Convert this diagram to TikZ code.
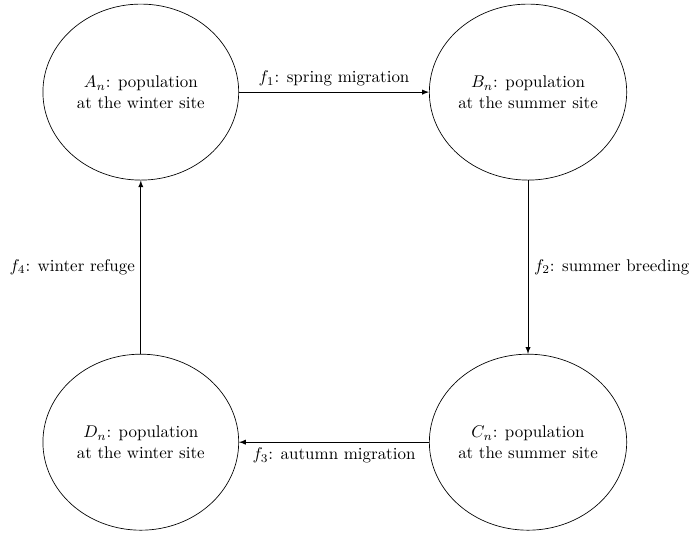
\documentclass[tikz,border=0pt]{standalone}
\usepackage{amsmath}
\usepackage{tikz}
\usetikzlibrary{arrows, shapes.geometric, positioning}
\tikzset{
    site/.style={ellipse, draw, minimum width=4.06cm, minimum height=3.65cm, align=center, inner sep=0pt},
    flow/.style={->, >=latex, thin},
}
\newcommand{\drawFlow}[4][above]{
    \draw[flow] (#2) -- node[#1] {#4} (#3);
}

\begin{document}
\begin{tikzpicture}[x=1cm, y=1cm]
    \useasboundingbox (-2.92, 1.91) rectangle (11.41, -9.15);

    % winter and summer sites
    \node[site] (A) at (0, 0) {$A_n$: population\\at the winter site};
    \node[site] (B) at (8.03, 0) {$B_n$: population\\at the summer site};
    \node[site] (C) at (8.03, -7.26) {$C_n$: population\\at the summer site};
    \node[site] (D) at (0, -7.26) {$D_n$: population\\at the winter site};

    % seasonal maps
    \drawFlow{A}{B}{$f_1$: spring migration}
    \drawFlow[right]{B}{C}{$f_2$: summer breeding}
    \drawFlow[below]{C}{D}{$f_3$: autumn migration}
    \drawFlow[left]{D}{A}{$f_4$: winter refuge}

\end{tikzpicture}
\end{document}
